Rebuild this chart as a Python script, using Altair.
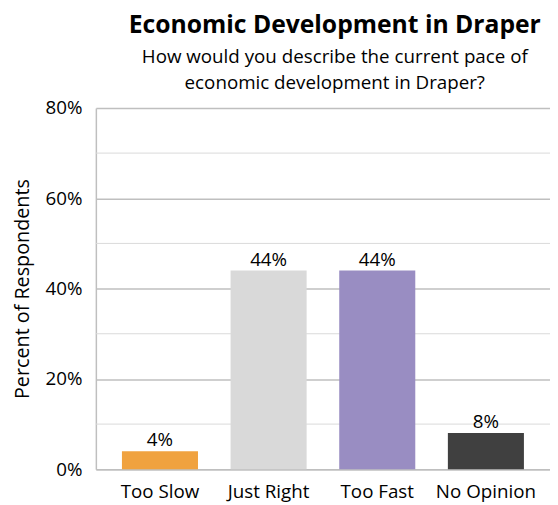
import altair as alt
import pandas as pd

categories = ["Too Slow", "Just Right", "Too Fast", "No Opinion"]
values = [0.04, 0.44, 0.44, 0.08]
labels = ["4%", "44%", "44%", "8%"]
colors = ["#F0A23F", "#D9D9D9", "#998DC2", "#404040"]
major_ticks = [0.0, 0.2, 0.4, 0.6, 0.8]
minor_ticks = [0.1, 0.3, 0.5, 0.7]

FONT = "Open Sans"

df = pd.DataFrame({"cat": categories, "val": values, "label": labels})
minor_df = pd.DataFrame({"v": minor_ticks})

x_enc = alt.X("cat:N", sort=categories, title=None,
              scale=alt.Scale(paddingInner=0.3, paddingOuter=0.24),
              axis=alt.Axis(labelAngle=0, labelFontSize=19, labelFont=FONT,
                            labelColor="#000000", ticks=False, labelPadding=14,
                            domainColor="#BFBFBF", domainWidth=1.5))
y_scale = alt.Scale(domain=[0, 0.8])

minor = alt.Chart(minor_df).mark_rule(color="#D9D9D9", strokeWidth=1).encode(
    y=alt.Y("v:Q", scale=y_scale)
)

bars = alt.Chart(df).mark_bar().encode(
    x=x_enc,
    y=alt.Y("val:Q", scale=y_scale, title="Percent of Respondents",
            axis=alt.Axis(values=major_ticks, format=".0%", ticks=False,
                          labelFontSize=19, labelFont=FONT, labelColor="#000000",
                          labelPadding=14, titleFontSize=20, titleFont=FONT,
                          titleFontWeight="normal", titleColor="#000000",
                          titlePadding=13, grid=True, gridColor="#BFBFBF",
                          gridWidth=1.5, domainColor="#BFBFBF", domainWidth=1.5)),
    color=alt.Color("cat:N", scale=alt.Scale(domain=categories, range=colors),
                    legend=None),
)

text = alt.Chart(df).mark_text(baseline="bottom", dy=-1, fontSize=19,
                               font=FONT, color="#000000").encode(
    x=alt.X("cat:N", sort=categories),
    y=alt.Y("val:Q", scale=y_scale),
    text="label:N",
)

chart = alt.layer(minor, bars, text).properties(
    width=460, height=366,
    autosize=alt.AutoSizeParams(type="none"),
    padding={"left": 89, "top": 98, "right": 0, "bottom": 33},
    title=alt.TitleParams(
        "Economic Development in Draper",
        subtitle=["How would you describe the current pace of",
                  "economic development in Draper?"],
        font=FONT, fontSize=25, fontWeight="bold", color="#000000",
        subtitleFont=FONT, subtitleFontSize=19, subtitleColor="#000000",
        subtitleLineHeight=26, subtitlePadding=11,
        anchor="middle", dx=12, offset=6,
    ),
).configure_view(stroke=None)

chart.save("out.html", embed_options={"renderer": "svg", "actions": False})
